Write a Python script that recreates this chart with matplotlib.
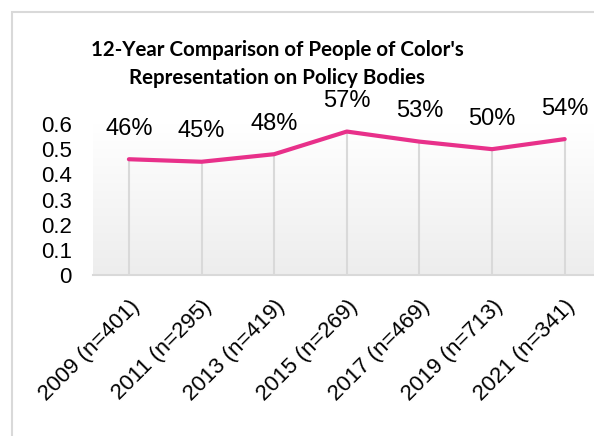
import numpy as np
import matplotlib.pyplot as plt
from matplotlib.patches import Rectangle
from matplotlib.colors import LinearSegmentedColormap

years = ['2009 (n=401)', '2011 (n=295)', '2013 (n=419)', '2015 (n=269)',
         '2017 (n=469)', '2019 (n=713)', '2021 (n=341)']
share = [0.46, 0.45, 0.48, 0.57, 0.53, 0.50, 0.54]
yticks = [0, 0.1, 0.2, 0.3, 0.4, 0.5, 0.6]

pink = '#E8308A'
grid = '#D9D9D9'

fig = plt.figure(figsize=(5.94, 4.36), dpi=100)

# chart border (only top/left visible in the crop)
fig.patches.append(Rectangle((12 / 594, -0.1), 1.2, (436 - 12) / 436 + 0.1,
                             transform=fig.transFigure, fill=False,
                             edgecolor=grid, linewidth=1.5))

ax = fig.add_axes([92.6 / 594, (436 - 275) / 436, 508.4 / 594, 151 / 436])
x = np.arange(len(years))
ax.set_xlim(-0.5, len(years) - 0.5)
ax.set_ylim(0, 0.6)

# gradient plot area
grad = np.linspace(1, 0, 256).reshape(-1, 1)
cmap = LinearSegmentedColormap.from_list('g', ['#EDEDED', '#FFFFFF'])
ax.imshow(grad, extent=(-0.5, len(years) - 0.5, 0, 0.6), aspect='auto',
          cmap=cmap, origin='upper', zorder=0)

# drop lines
ax.vlines(x, 0, share, color=grid, linewidth=1.5, zorder=1)
ax.plot(x, share, color=pink, linewidth=3, solid_capstyle='round', zorder=3)

for xi, v in zip(x, share):
    ax.annotate(f'{round(v * 100)}%', (xi, v), xytext=(0, 22),
                textcoords='offset points', ha='center', va='center',
                fontsize=17, family='Liberation Sans', annotation_clip=False)

for s in ['top', 'right', 'left']:
    ax.spines[s].set_visible(False)
ax.spines['bottom'].set_color(grid)
ax.spines['bottom'].set_linewidth(1.5)

ax.set_yticks(yticks)
ax.set_yticklabels([f'{t:g}' for t in yticks], fontsize=16,
                   family='Liberation Sans')
ax.tick_params(axis='y', length=0, pad=15)
ax.set_xticks(x)
ax.set_xticklabels(years, rotation=45, ha='right', rotation_mode='anchor',
                   fontsize=16, family='Liberation Sans')
ax.tick_params(axis='x', length=0, pad=15)

fig.text(277 / 594, 1 - 63.5 / 436,
         "12-Year Comparison of People of Color's\nRepresentation on Policy Bodies",
         ha='center', va='center', fontsize=14.8, fontweight='bold',
         family='Lato', linespacing=1.5)

fig.savefig('out.png', dpi=100)
